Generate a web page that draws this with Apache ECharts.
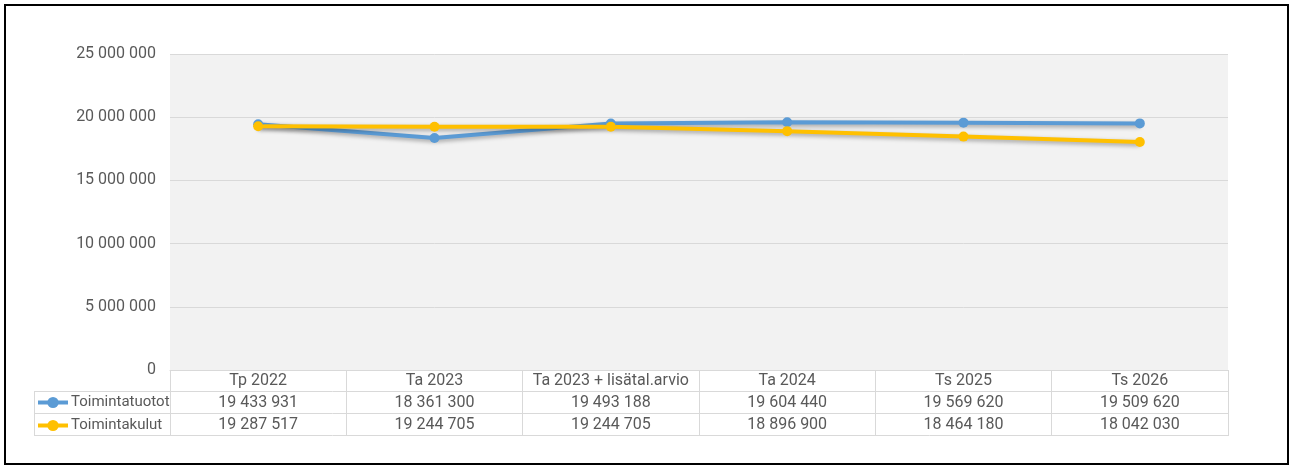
<!DOCTYPE html>
<html>
<head>
<meta charset="utf-8">
<script src="https://cdn.jsdelivr.net/npm/echarts@6/dist/echarts.min.js"></script>
<style>
  html, body { margin: 0; padding: 0; background: #fff; }
  #chart { width: 1293px; height: 469px; }
</style>
</head>
<body>
<div id="chart"></div>
<script>
  const categories = ['Tp 2022', 'Ta 2023', 'Ta 2023 + lisätal.arvio', 'Ta 2024', 'Ts 2025', 'Ts 2026'];
  const tuotot = [19433931, 18361300, 19493188, 19604440, 19569620, 19509620];
  const kulut = [19287517, 19244705, 19244705, 18896900, 18464180, 18042030];
  const seriesNames = ['Toimintatuotot', 'Toimintakulut'];
  const yTicks = [0, 5000000, 10000000, 15000000, 20000000, 25000000];

  const fmt = v => String(v).replace(/\B(?=(\d{3})+(?!\d))/g, ' ');
  const font = 'Roboto, "Noto Sans", sans-serif';
  const txt = '#595959';
  const border = '#d9d9d9';

  const chart = echarts.init(document.getElementById('chart'));

  // axis used as a table row
  function rowAxis(data, offset, extra) {
    return Object.assign({
      type: 'category',
      data: data,
      position: 'bottom',
      offset: offset,
      boundaryGap: true,
      axisLine: { show: false },
      axisTick: { show: false },
      axisLabel: { color: txt, fontSize: 16, fontFamily: font, margin: 3, interval: 0 },
      splitLine: { show: false }
    }, extra || {});
  }

  const hline = (x1, x2, y) => ({
    type: 'line', shape: { x1: x1, y1: y, x2: x2, y2: y },
    style: { stroke: border, lineWidth: 1 }, silent: true
  });

  const option = {
    animation: false,
    textStyle: { fontFamily: font },
    grid: {
      left: 170, right: 65, top: 54, bottom: 99,
      show: true, backgroundColor: '#f2f2f2', borderWidth: 0
    },
    legend: {
      data: seriesNames,
      orient: 'vertical',
      left: 36, top: 395,
      itemWidth: 30, itemHeight: 14, itemGap: 8,
      lineStyle: { width: 4 },
      textStyle: { color: txt, fontSize: 15, fontFamily: font, padding: [0, 0, 0, -2] },
      padding: 0
    },
    xAxis: [
      rowAxis(categories, 0, {
        axisLine: { show: true, lineStyle: { color: border } },
        axisTick: { show: true, length: 66, lineStyle: { color: border } }
      }),
      rowAxis(tuotot.map(fmt), 22),
      rowAxis(kulut.map(fmt), 44)
    ],
    yAxis: {
      type: 'value',
      min: yTicks[0], max: yTicks[yTicks.length - 1], interval: 5000000,
      axisLine: { show: false },
      axisTick: { show: false },
      axisLabel: { color: txt, fontSize: 16, fontFamily: font, margin: 14, formatter: fmt },
      splitLine: { lineStyle: { color: border } }
    },
    series: [
      {
        name: seriesNames[0], type: 'line', data: tuotot, xAxisIndex: 0,
        symbol: 'circle', symbolSize: 10,
        itemStyle: { color: '#5b9bd5' },
        lineStyle: { width: 4, color: '#5b9bd5', shadowColor: 'rgba(0,0,0,0.35)', shadowBlur: 4, shadowOffsetY: 2 }
      },
      {
        name: seriesNames[1], type: 'line', data: kulut, xAxisIndex: 0,
        symbol: 'circle', symbolSize: 10,
        itemStyle: { color: '#ffc000' },
        lineStyle: { width: 4, color: '#ffc000', shadowColor: 'rgba(0,0,0,0.35)', shadowBlur: 4, shadowOffsetY: 2 }
      }
    ],
    graphic: [
      hline(34, 1228, 391.5),
      hline(34, 1228, 413.5),
      hline(34, 1228, 435.5),
      { type: 'line', shape: { x1: 34.5, y1: 391, x2: 34.5, y2: 436 }, style: { stroke: border, lineWidth: 1 }, silent: true },
      {
        type: 'rect', shape: { x: 5, y: 5, width: 1283, height: 459 },
        style: { fill: 'none', stroke: '#000', lineWidth: 2 }, silent: true, z: 100
      }
    ]
  };

  chart.setOption(option);
</script>
</body>
</html>
